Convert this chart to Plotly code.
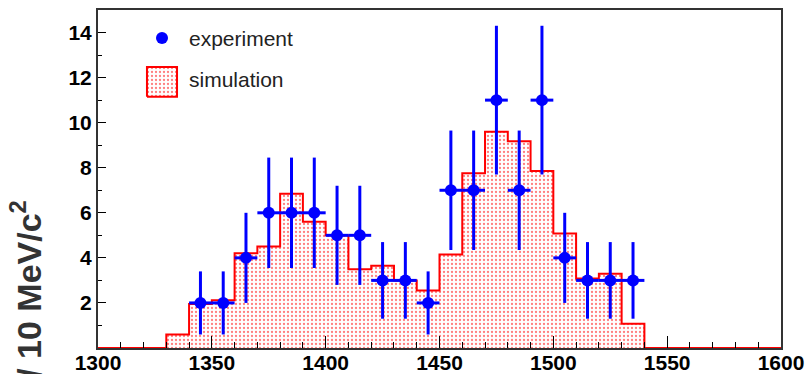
import plotly.graph_objects as go

# ---- data ----
bin_low = list(range(1300, 1600, 10))          # histogram bin lower edges (MeV/c^2)
bin_high_edge = 1600
sim_counts = [0, 0, 0, 0.6, 1.95, 2.12, 4.2, 4.5, 6.85, 5.6,
              5.0, 3.5, 3.65, 3.0, 2.55, 4.15, 7.75, 9.6, 9.18, 7.85,
              5.08, 3.08, 3.3, 1.08, 0, 0, 0, 0, 0, 0]

exp_mass = [1345, 1355, 1365, 1375, 1385, 1395, 1405, 1415, 1425, 1435,
            1445, 1455, 1465, 1475, 1485, 1495, 1505, 1515, 1525, 1535]
exp_counts = [2, 2, 4, 6, 6, 6, 5, 5, 3, 3,
              2, 7, 7, 11, 7, 11, 4, 3, 3, 3]
exp_err = [1.4, 1.4, 2.0, 2.45, 2.45, 2.45, 2.2, 2.2, 1.7, 1.7,
           1.4, 2.65, 2.65, 3.3, 2.65, 3.3, 2.0, 1.7, 1.7, 1.7]
exp_xerr = 5

x_ticks = [1300, 1350, 1400, 1450, 1500, 1550, 1600]
y_ticks = [2, 4, 6, 8, 10, 12, 14]

RED = "#ff0000"
BLUE = "#0000ff"
FONT = "Liberation Sans"
PATTERN = dict(shape=".", fgcolor=RED, bgcolor="white", size=4, solidity=0.26)

fig = go.Figure()

# simulation histogram (step outline with dotted fill)
hx = bin_low + [bin_high_edge]
hy = sim_counts + [sim_counts[-1]]
fig.add_trace(go.Scatter(
    x=hx, y=hy, mode="lines", line=dict(color=RED, width=2, shape="hv"),
    fill="tozeroy", fillcolor="rgba(0,0,0,0)", fillpattern=PATTERN,
    showlegend=False, hoverinfo="skip"))

# experiment points
fig.add_trace(go.Scatter(
    x=exp_mass, y=exp_counts, mode="markers",
    marker=dict(color=BLUE, size=12, symbol="circle"),
    error_y=dict(type="data", array=exp_err, color=BLUE, thickness=3, width=0),
    error_x=dict(type="constant", value=exp_xerr, color=BLUE, thickness=3, width=0),
    showlegend=False))

# legend swatches on a hidden overlay axis (legend-space 0..1)
fig.add_trace(go.Scatter(
    x=[0.0937], y=[0.917], mode="markers", marker=dict(color=BLUE, size=12),
    xaxis="x2", yaxis="y2", showlegend=False, hoverinfo="skip"))
fig.add_trace(go.Scatter(
    x=[0.0717, 0.1157, 0.1157, 0.0717, 0.0717], y=[0.743, 0.743, 0.8315, 0.8315, 0.743],
    mode="lines", line=dict(color=RED, width=2), fill="toself", fillcolor="rgba(0,0,0,0)",
    fillpattern=PATTERN, xaxis="x2", yaxis="y2", showlegend=False, hoverinfo="skip"))

fig.update_layout(
    width=805, height=374,
    margin=dict(l=98, r=24, t=10, b=26),
    paper_bgcolor="white", plot_bgcolor="white",
    font=dict(family=FONT, color="black"),
    xaxis=dict(range=[1300, 1600], tickvals=x_ticks, ticks="inside", ticklen=12, tickwidth=1,
               tickcolor="black", showgrid=False, zeroline=False, automargin=False,
               showline=True, linecolor="#333", linewidth=2, mirror=True, ticklabelstandoff=-5,
               tickfont=dict(size=21, family=FONT, weight="bold", color="black"),
               minor=dict(dtick=10, tick0=1300, ticks="inside", ticklen=6, tickcolor="black", showgrid=False)),
    yaxis=dict(range=[0, 15], tickvals=y_ticks, ticks="inside", ticklen=8, tickwidth=1,
               tickcolor="black", showgrid=False, zeroline=False, automargin=False,
               showline=True, linecolor="#333", linewidth=2, mirror=True,
               tickfont=dict(size=21, family=FONT, weight="bold", color="black"),
               minor=dict(dtick=1, tick0=0, ticks="inside", ticklen=4, tickcolor="black", showgrid=False)),
    xaxis2=dict(range=[0, 1], overlaying="x", visible=False, fixedrange=True),
    yaxis2=dict(range=[0, 1], overlaying="y", visible=False, fixedrange=True),
    annotations=[
        dict(text="experiment", xref="paper", yref="paper", x=0.130, y=0.917,
             xanchor="left", yanchor="middle", showarrow=False,
             font=dict(size=21, family=FONT, color="#222")),
        dict(text="simulation", xref="paper", yref="paper", x=0.130, y=0.793,
             xanchor="left", yanchor="middle", showarrow=False,
             font=dict(size=21, family=FONT, color="#222")),
        dict(text="Events / 10 MeV/c<sup>2</sup>", xref="paper", yref="paper",
             x=-0.1054, y=0.443, xanchor="center", yanchor="top", textangle=-90,
             showarrow=False, font=dict(size=34, family=FONT, weight="bold", color="#333")),
    ],
)

fig.write_html("out.html")
